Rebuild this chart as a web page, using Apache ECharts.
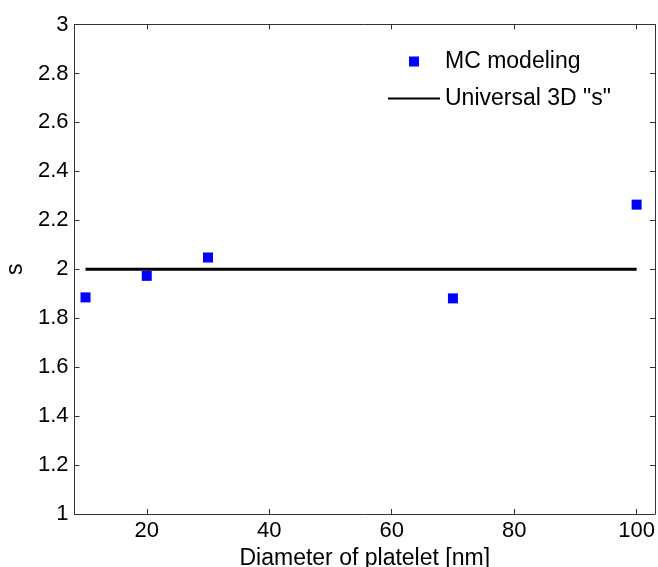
<!DOCTYPE html>
<html><head><meta charset="utf-8">
<script src="https://cdn.jsdelivr.net/npm/echarts@6/dist/echarts.min.js"></script>
<style>html,body{margin:0;padding:0;background:#fff}#c{width:658px;height:567px}</style>
</head><body><div id="c"></div>
<script>
const diameters = [10, 20, 30, 70, 100];
const mcValues = [1.885, 1.973, 2.048, 1.881, 2.264];
const universalX = [10, 100];
const universalY = [2, 2];
const xTicks = [20, 40, 60, 80, 100];
const seriesNames = ['MC modeling', 'Universal 3D "s"'];

const FONT = 'Liberation Sans, Arial, sans-serif';
const axisCol = '#333';
const chart = echarts.init(document.getElementById('c'), null, {renderer: 'canvas'});
const commonAxis = {
  axisLine: {show: true, onZero: false, lineStyle: {color: axisCol, width: 1}},
  axisTick: {show: true, inside: true, length: 5, lineStyle: {color: axisCol}},
  splitLine: {show: false}
};
chart.setOption({
  animation: false,
  grid: {left: 74.5, right: 3, top: 24.5, bottom: 53, containLabel: false, outerBoundsMode: 'none'},
  legend: {
    orient: 'vertical', left: 382, top: 45, itemWidth: 52, itemHeight: 10, itemGap: 14,
    textStyle: {fontFamily: FONT, fontSize: 23, color: '#000'},
    data: [
      {name: seriesNames[0], icon: 'path://M0,0h10v10h-10z'},
      {name: seriesNames[1], itemStyle: {opacity: 0}}
    ]
  },
  xAxis: [
    Object.assign({}, commonAxis, {
      type: 'value', min: 8.2, max: 103, position: 'bottom',
      axisTick: Object.assign({}, commonAxis.axisTick, {customValues: xTicks}),
      axisLabel: {customValues: xTicks, fontFamily: FONT, fontSize: 22, color: '#000', margin: 6},
      name: 'Diameter of platelet [nm]', nameLocation: 'middle', nameGap: 28,
      nameTextStyle: {fontFamily: FONT, fontSize: 23, color: '#000'}
    }),
    Object.assign({}, commonAxis, {
      type: 'value', min: 8.2, max: 103, position: 'top',
      axisTick: Object.assign({}, commonAxis.axisTick, {customValues: xTicks}),
      axisLabel: {show: false}
    })
  ],
  yAxis: [
    Object.assign({}, commonAxis, {
      type: 'value', min: 1, max: 3, interval: 0.2, position: 'left',
      axisLabel: {fontFamily: FONT, fontSize: 22, color: '#000', margin: 6},
      name: 's', nameLocation: 'middle', nameGap: 41,
      nameTextStyle: {fontFamily: FONT, fontSize: 23, color: '#000'}
    }),
    Object.assign({}, commonAxis, {
      type: 'value', min: 1, max: 3, interval: 0.2, position: 'right',
      axisLabel: {show: false}
    })
  ],
  series: [
    {
      name: seriesNames[0], type: 'scatter', xAxisIndex: 0, yAxisIndex: 0,
      symbol: 'rect', symbolSize: 10,
      itemStyle: {color: '#0000ff', opacity: 1},
      data: diameters.map((d, i) => [d, mcValues[i]])
    },
    {
      name: seriesNames[1], type: 'line', xAxisIndex: 0, yAxisIndex: 0,
      symbol: 'none', showSymbol: false, lineStyle: {color: '#000', width: 3},
      itemStyle: {color: '#000'},
      data: universalX.map((d, i) => [d, universalY[i]])
    }
  ]
});
</script></body></html>
